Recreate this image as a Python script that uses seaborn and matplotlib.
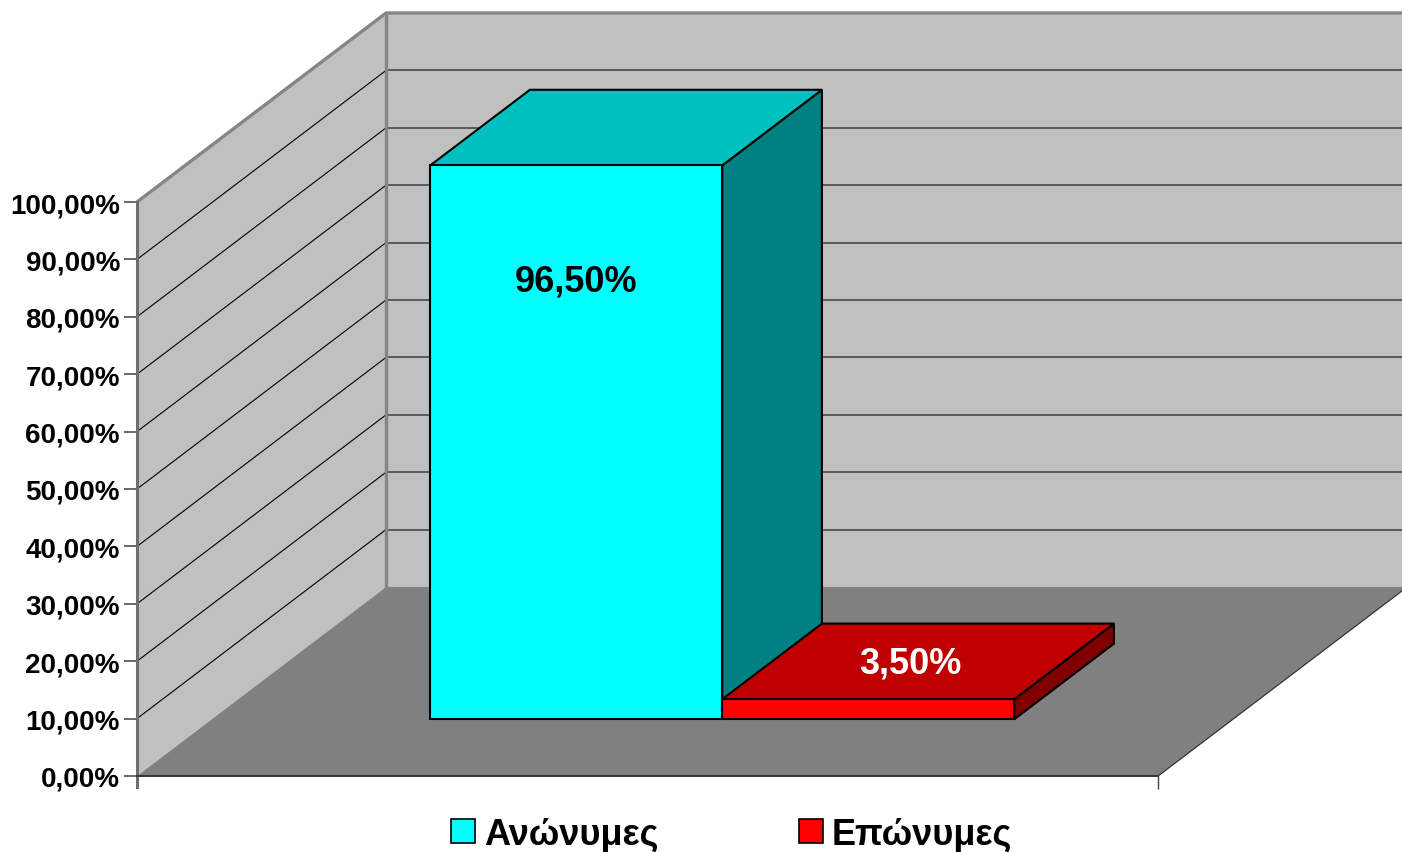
import numpy as np
import pandas as pd
import matplotlib
matplotlib.use("Agg")
import matplotlib.pyplot as plt
from matplotlib.patches import Polygon, Patch
import seaborn as sns

# data
categories = ["Ανώνυμες", "Επώνυμες"]
shares = [96.5, 3.5]
yticks = [0, 10, 20, 30, 40, 50, 60, 70, 80, 90, 100]

front_colors = ["#00FFFF", "#FF0000"]
top_colors = ["#00C0C0", "#C00000"]
side_colors = ["#008080", "#800000"]

sns.set_style("ticks")
plt.rcParams["font.family"] = ["Liberation Sans", "DejaVu Sans"]
plt.rcParams["font.weight"] = "bold"
plt.rcParams["text.color"] = "black"
plt.rcParams["axes.labelcolor"] = "black"
plt.rcParams["ytick.labelcolor"] = "black"

# fake 3d layout: x in bar widths, y in percent
FLOOR_W = 3.497
DX, DY = 0.853, 32.93   # full depth offset
D0, D1 = 0.30, 0.70     # bar front / back depth
WALL_H = 100

def proj(x, y, d):
    return (x + d * DX, y + d * DY)

fig = plt.figure(figsize=(14.02, 8.53), dpi=100)
ax = fig.add_axes([137 / 1402, 76 / 853, 1265 / 1402, 777 / 853])

# walls and floor
ax.add_patch(Polygon([(0, 0), proj(0, 0, 1), proj(0, WALL_H, 1), (0, WALL_H)],
                     fc="#C0C0C0", ec="none", zorder=0))
ax.add_patch(Polygon([proj(0, 0, 1), proj(FLOOR_W, 0, 1), proj(FLOOR_W, WALL_H, 1), proj(0, WALL_H, 1)],
                     fc="#C0C0C0", ec="none", zorder=0))
ax.add_patch(Polygon([(0, 0), (FLOOR_W, 0), proj(FLOOR_W, 0, 1), proj(0, 0, 1)],
                     fc="#808080", ec="none", zorder=0.5))

for t in yticks[1:-1]:
    ax.plot([DX, FLOOR_W + DX], [DY + t, DY + t], color="#5a5a5a", lw=1.4, zorder=1)
    ax.plot([0, DX], [t, DY + t], color="black", lw=0.8, zorder=1)

ax.plot([0, DX, FLOOR_W + DX], [WALL_H, DY + WALL_H, DY + WALL_H], color="#858585",
        lw=2.4, zorder=1.2, clip_on=False, solid_joinstyle="miter")
ax.plot([DX, DX], [DY, DY + WALL_H], color="#858585", lw=2.4, zorder=1.2)
ax.plot([FLOOR_W, FLOOR_W + DX], [0, DY], color="#333333", lw=0.9, zorder=1.2)

# bars
centers = FLOOR_W / 2 + (np.arange(len(shares)) - (len(shares) - 1) / 2)
df = pd.DataFrame({"pos": centers + D0 * DX, "share": shares, "cat": categories})

n_before = len(ax.patches)
sns.barplot(data=df, x="pos", y="share", hue="cat", hue_order=categories,
            palette=front_colors, saturation=1, native_scale=True, width=1,
            dodge=False, bottom=D0 * DY, edgecolor="black", linewidth=1.5,
            errorbar=None, legend=False, ax=ax)
fronts = ax.patches[n_before:]

for i, v in enumerate(shares):
    z = 5 + 2 * i
    x0, x1 = centers[i] - 0.5, centers[i] + 0.5
    ax.add_patch(Polygon([proj(x1, 0, D0), proj(x1, v, D0), proj(x1, v, D1), proj(x1, 0, D1)],
                         fc=side_colors[i], ec="black", lw=1.5, zorder=z, joinstyle="miter"))
    ax.add_patch(Polygon([proj(x0, v, D0), proj(x1, v, D0), proj(x1, v, D1), proj(x0, v, D1)],
                         fc=top_colors[i], ec="black", lw=1.5, zorder=z, joinstyle="miter"))
    fronts[i].set_zorder(z + 1)

    txt = f"{v:.2f}%".replace(".", ",")
    if v >= 20:
        ax.text(centers[i] + D0 * DX, D0 * DY + v - 20.2, txt, color="black",
                fontsize=26, fontweight="bold", ha="center", va="center", zorder=20)
    else:
        dm = (D0 + D1) / 2
        ax.text(centers[i] + dm * DX - 0.025, v + dm * DY - 0.2, txt, color="white",
                fontsize=26, fontweight="bold", ha="center", va="center", zorder=20)

ax.set_xlim(0, 1265 / 292)
ax.set_ylim(0, 777 / 5.74)
ax.set_xlabel("")
ax.set_ylabel("")

for s in ["top", "right"]:
    ax.spines[s].set_visible(False)
ax.spines["left"].set_color("#6e6e6e")
ax.spines["left"].set_linewidth(2.2)
ax.spines["left"].set_bounds(-1.9, 100)
ax.spines["bottom"].set_color("#333333")
ax.spines["bottom"].set_linewidth(1.4)
ax.spines["bottom"].set_bounds(0, FLOOR_W)

ax.set_yticks(yticks)
ax.set_yticklabels([f"{t:.2f}%".replace(".", ",") for t in yticks])
ax.tick_params(axis="y", left=True, direction="out", length=9.4, width=1.1,
               color="#404040", labelcolor="black", pad=2.9, labelsize=20)
ax.set_xticks([FLOOR_W])
ax.set_xticklabels([""])
ax.tick_params(axis="x", bottom=True, direction="out", length=9.4, width=1.0, color="#404040")

handles = [Patch(facecolor=c, edgecolor="black", linewidth=1.2, label=cat)
           for c, cat in zip(front_colors, categories)]
leg = fig.legend(handles=handles, loc="center", bbox_to_anchor=(0.522, 0.021), ncol=2,
                 frameon=False, prop={"size": 26, "weight": "bold"}, handlelength=0.665,
                 handleheight=0.665, handletextpad=0.25, columnspacing=3.88)
for t in leg.get_texts():
    t.set_color("black")

fig.savefig("out.png", dpi=100)
